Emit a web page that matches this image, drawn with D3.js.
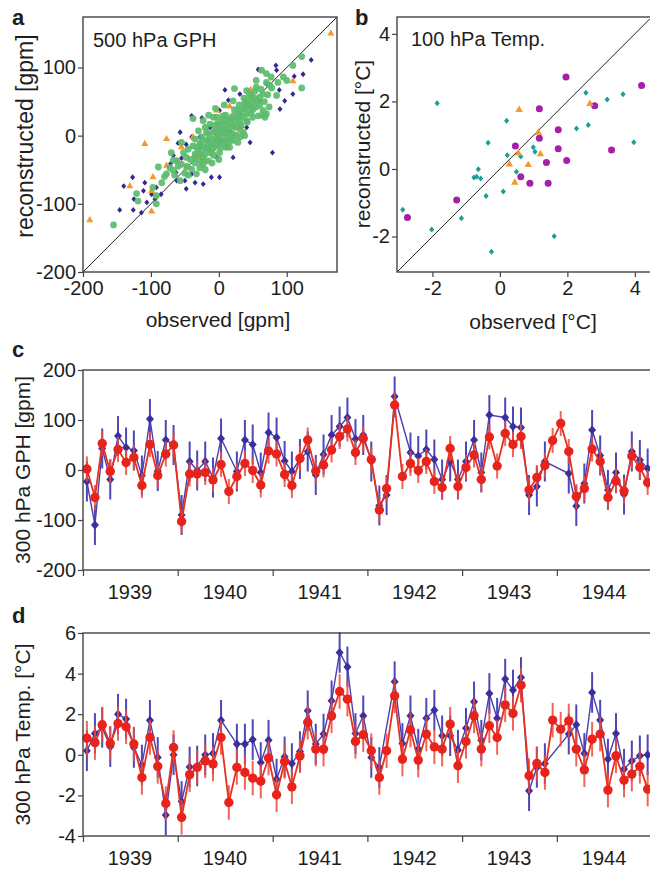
<!DOCTYPE html>
<html>
<head>
<meta charset="utf-8">
<script src="https://cdn.jsdelivr.net/npm/d3@7"></script>
<style>
  body { margin: 0; background: #fff; }
  text { font-family: "Liberation Sans", Arial, sans-serif; fill: #1e1e1e; }
</style>
</head>
<body>
<div id="chart"></div>
<script>
// ---- panel a: 500 hPa GPH, observed vs reconstructed [gpm]
var gphBlue = [[136,111],[124,90],[111,87],[109,61],[84,103],[85,96],[58,97],[89,67],[90,39],[79,-25],
  [46,-10],[9,67],[14,52],[1,37],[-25,26],[-40,29],[-40,-2],[-57,5],[-48,-13],[-60,-11],[-28,-2],[-28,-17],
  [-55,-33],[-63,-54],[-71,-41],[-62,-66],[-50,-66],[-48,-78],[-35,-69],[-23,-71],[-11,-61],[1,-61],[-40,-56],
  [-85,-86],[-99,-86],[-111,-81],[-140,-74],[-127,-61],[-125,-93],[-109,-69],[-106,-98],[-126,-109],[-114,-113],
  [-146,-109],[-94,-93],[-92,-76],[-67,-29],[-3,-32],[21,-32],[41,12],[16,7],[-13,12],[60,51],[70,76],[97,51],
  [31,61],[-16,-7]];
var gphOrange = [[-190,-124],[-109,-12],[-131,-74],[-99,-81],[-99,-111],[-97,-61],[-77,-5],[-77,-44],[-55,-17],
  [-48,-47],[-38,-2],[-28,-32],[-21,-37],[-3,37],[16,43],[16,25],[21,15],[11,-17],[31,7],[47,67],[47,54],
  [109,80],[165,150],[-62,-37],[-8,-25]];
var gphGreen = [[-155,-131],[-121,-85],[-92,-100],[-97,-76],[-84,-69],[-89,-46],[-67,-36],[-72,-47],[-55,-42],
  [-57,-66],[-50,-55],[-40,-49],[-33,-56],[-28,-47],[-23,-42],[-38,25],[-35,-32],[-28,-27],[-23,-17],[-18,-7],
  [-13,-20],[-8,-12],[-3,-2],[1,2],[-8,5],[-18,5],[-13,17],[-6,15],[1,15],[6,7],[11,-2],[16,-7],[21,2],[26,12],
  [31,22],[21,29],[28,37],[36,39],[41,32],[46,42],[50,49],[55,42],[60,56],[50,27],[41,22],[31,32],[21,51],
  [23,69],[41,66],[55,71],[65,61],[70,78],[63,96],[70,91],[77,86],[87,78],[85,59],[70,32],[68,27],[95,86],
  [100,81],[109,103],[122,116],[122,70],[-35,-27],[-48,-32],[-62,-37],[-16,-37],[1,-25],[11,-17],[21,-7],
  [31,-2],[-25,-2],[-20,12],[-3,27],[6,29],[16,17],[11,22],[1,-12],[-6,-10],[-28,-12],[-33,-17],[-30,7],
  [-23,22],[-8,27],[-16,-12],[41,51],[48,59],[55,81],[31,12],[36,5],[16,-17],[-8,-29],[-23,-32],[-1,7],
  [4,-7],[9,15],[38,47],[65,37],[58,29],[75,74],[-67,-51],[-77,-56],[-119,-96],[-92,-88],
  [-45,-20],[-42,-35],[-38,-15],[-35,-5],[-30,-22],[-27,-38],[-25,-8],[-20,-27],[-18,-18],[-15,2],[-12,-25],
  [-10,-5],[-8,-18],[-5,8],[-3,-15],[-2,18],[0,-5],[3,10],[3,-18],[5,22],[7,-10],[8,3],[10,30],[12,10],
  [13,-10],[15,5],[18,25],[18,-2],[20,12],[23,38],[24,20],[26,0],[28,28],[30,45],[33,15],[35,28],[37,55],
  [39,40],[42,20],[43,45],[45,60],[47,33],[50,38],[52,55],[53,65],[57,50],[60,45],[62,68],[64,30],[67,50],
  [72,60],[74,42],[78,70],[-52,-25],[-47,-45],[-60,-45],[-45,-58],[-35,-40],[-20,-50],[-10,-40],[0,-35],
  [-65,-58],[-80,-60],[-70,-25],[28,-10],[38,0],[-5,40],[-15,30],[8,45],[-55,-10]];

// ---- panel b: 100 hPa temperature, observed vs reconstructed [°C]
var tmpTeal = [[-2.88,-1.21],[-2.02,-1.79],[-1.86,1.95],[-1.14,-1.46],[-0.41,-0.80],[-0.35,0.78],[-0.25,-2.45],
  [-0.77,-0.25],[-0.64,-0.01],[-0.69,-0.23],[-0.57,-0.28],[0.10,-0.67],[0.20,1.43],[0.22,0.41],[0.49,-0.08],
  [0.62,0.37],[0.99,0.64],[1.04,0.51],[1.61,-1.99],[2.27,1.20],[2.55,2.26],[2.62,1.30],[3.18,2.06],[3.65,2.21],
  [3.97,0.79]];
var tmpPurple = [[-2.74,-1.44],[-1.28,-0.92],[0.46,0.68],[0.62,-0.23],[0.89,-0.42],[1.17,0.91],[1.17,1.78],
  [1.38,0.19],[1.43,-0.42],[1.73,1.16],[1.73,0.60],[1.96,2.72],[1.98,0.25],[2.81,1.87],[3.31,0.56],[4.20,2.47]];
var tmpOrange = [[0.28,0.14],[0.44,-0.40],[0.57,1.75],[0.55,0.46],[0.84,0.12],[1.14,1.08],[1.20,0.44],[2.67,1.93]];

// ---- panels c and d: monthly series Jan 1939 - Dec 1944
var months = d3.utcMonth.range(new Date(Date.UTC(1939, 0, 1)), new Date(Date.UTC(1945, 0, 1)));
var yearLabels = ["1939", "1940", "1941", "1942", "1943", "1944"];

var gph300Blue = [-23,-110,43,-19,68,45,39,-11,102,-2,60,50,
  -90,17,-1,17,-15,63,null,-3,60,51,-5,75,
  65,18,-3,22,37,-10,31,70,87,105,62,70,
  17,-71,-50,147,null,35,28,41,21,-19,17,-19,
  17,60,-5,110,null,105,87,85,-50,-33,17,null,
  null,-7,-72,-27,80,29,-40,-5,-49,37,20,3];
var gph300Red = [2,-55,53,-3,41,15,25,-31,51,-11,32,50,
  -103,-8,-8,-5,-20,11,-43,-13,13,-1,-30,38,
  32,-9,-31,23,60,-2,10,40,67,82,35,63,
  21,-80,-37,130,-13,13,-1,17,-23,-35,43,-33,
  5,30,-19,66,8,73,51,67,-40,-15,9,59,
  93,37,-53,-37,42,17,-55,-22,-42,28,5,-25];
var gph300BlueErr = 40, gph300RedErr = 25;

var t300Blue = [0.2,1.05,1.35,0.4,2.0,1.76,0.36,-0.5,1.7,-0.13,-2.97,0.0,
  -2.3,-0.6,-0.55,0.0,0.07,1.7,null,0.53,0.53,0.75,-0.38,0.72,
  -1.2,-0.1,-0.43,0.16,2.17,0.53,1.02,2.66,5.04,4.33,1.05,1.92,
  -0.13,-0.62,null,3.6,0.56,1.92,0.28,1.8,2.2,0.94,0.94,0.23,
  1.31,2.61,0.72,3.02,1.8,3.73,3.19,3.81,-1.77,-0.62,-0.43,null,
  null,1.02,1.48,0.07,3.07,1.71,-0.21,1.05,-0.71,-0.3,-0.05,0.0];
var t300Red = [0.82,0.6,1.48,0.56,1.54,1.38,0.53,-1.12,0.85,-0.57,-2.4,0.36,
  -3.08,-0.98,-0.62,-0.3,-0.45,0.85,-2.35,-0.62,-0.87,-1.15,-1.3,-0.16,
  -1.97,-0.33,-1.58,-0.05,1.6,0.28,0.28,1.92,3.12,2.74,0.66,0.99,
  0.2,-1.12,0.2,2.9,-0.21,1.22,-0.26,1.02,0.39,0.28,1.51,-0.54,
  0.66,1.92,0.28,1.43,0.85,2.46,2.04,3.43,-1.03,-0.43,-0.87,1.71,
  1.26,1.67,0.28,-0.74,0.77,1.02,-1.74,-0.05,-1.25,-0.95,-0.57,-1.69];
var t300BlueErr = 1.0, t300RedErr = 0.85;

var W = 650, H = 870;
var axisCol = "#444";
var svg = d3.select("#chart").append("svg").attr("width", W).attr("height", H);

function diamond(cx, cy, w, h) {
  return "M" + cx + "," + (cy - h) + "L" + (cx + w) + "," + cy + "L" + cx + "," + (cy + h) + "L" + (cx - w) + "," + cy + "Z";
}
function plain(d) { return String(d); }

function styleAxis(g, fs) {
  g.select(".domain").remove();
  g.selectAll(".tick line").attr("stroke", axisCol).attr("stroke-width", 1.2);
  g.selectAll(".tick text").style("font-size", fs + "px").attr("fill", "#1e1e1e");
}

function frame(x0, y0, x1, y1) {
  svg.append("rect").attr("x", x0).attr("y", y0).attr("width", x1 - x0).attr("height", y1 - y0)
    .attr("fill", "none").attr("stroke", axisCol).attr("stroke-width", 1.4);
}

// ================= panel a
var xa = d3.scaleLinear().domain([-200, 174]).range([83, 337]);
var ya = d3.scaleLinear().domain([-200, 174]).range([272, 17]);

svg.append("line").attr("x1", xa(-200)).attr("y1", ya(-200)).attr("x2", xa(174)).attr("y2", ya(174))
  .attr("stroke", "#222").attr("stroke-width", 1);

svg.append("g").selectAll("path").data(gphBlue).enter().append("path")
  .attr("d", function(d) { return diamond(xa(d[0]), ya(d[1]), 2.5, 2.9); })
  .attr("fill", "#33288f");
svg.append("g").selectAll("path").data(gphOrange).enter().append("path")
  .attr("d", d3.symbol().type(d3.symbolTriangle).size(22))
  .attr("transform", function(d) { return "translate(" + xa(d[0]) + "," + ya(d[1]) + ")"; })
  .attr("fill", "#f29a2e");
svg.append("g").selectAll("circle").data(gphGreen).enter().append("circle")
  .attr("cx", function(d) { return xa(d[0]); })
  .attr("cy", function(d) { return ya(d[1]); })
  .attr("r", 3.4)
  .attr("fill", "#5cbb6c").attr("fill-opacity", 0.92);

frame(83, 17, 337, 272);
svg.append("g").attr("transform", "translate(83,0)")
  .call(d3.axisLeft(ya).tickValues([-200, -100, 0, 100]).tickSize(5).tickPadding(2).tickFormat(plain))
  .call(styleAxis, 20);
svg.append("g").attr("transform", "translate(0,272)")
  .call(d3.axisBottom(xa).tickValues([-200, -100, 0, 100]).tickSize(5).tickPadding(4).tickFormat(plain))
  .call(styleAxis, 20);

svg.append("text").attr("x", 93).attr("y", 47).style("font-size", "20px").text("500 hPa GPH");
svg.append("text").attr("x", 218).attr("y", 327).attr("text-anchor", "middle").style("font-size", "21px").text("observed [gpm]");
svg.append("text").attr("transform", "translate(33,136) rotate(-90)").attr("text-anchor", "middle")
  .style("font-size", "23px").text("reconstructed [gpm]");
svg.append("text").attr("x", 12).attr("y", 25).style("font-size", "22px").style("font-weight", "bold").text("a");

// ================= panel b
var xb = d3.scaleLinear().domain([-3.05, 4.45]).range([397, 650]);
var yb = d3.scaleLinear().domain([-3.05, 4.5]).range([272, 17]);

svg.append("line").attr("x1", xb(-3.05)).attr("y1", yb(-3.05)).attr("x2", xb(4.45)).attr("y2", yb(4.45))
  .attr("stroke", "#222").attr("stroke-width", 1);

svg.append("g").selectAll("path").data(tmpTeal).enter().append("path")
  .attr("d", function(d) { return diamond(xb(d[0]), yb(d[1]), 2.6, 3.0); })
  .attr("fill", "#1a9f94");
svg.append("g").selectAll("circle").data(tmpPurple).enter().append("circle")
  .attr("cx", function(d) { return xb(d[0]); })
  .attr("cy", function(d) { return yb(d[1]); })
  .attr("r", 3.5).attr("fill", "#a51fa8");
svg.append("g").selectAll("path").data(tmpOrange).enter().append("path")
  .attr("d", d3.symbol().type(d3.symbolTriangle).size(24))
  .attr("transform", function(d) { return "translate(" + xb(d[0]) + "," + yb(d[1]) + ")"; })
  .attr("fill", "#f29a2e");

frame(397, 17, 652, 272);
svg.append("g").attr("transform", "translate(397,0)")
  .call(d3.axisLeft(yb).tickValues([-2, 0, 2, 4]).tickSize(5).tickPadding(2).tickFormat(plain))
  .call(styleAxis, 20);
svg.append("g").attr("transform", "translate(0,272)")
  .call(d3.axisBottom(xb).tickValues([-2, 0, 2, 4]).tickSize(5).tickPadding(4).tickFormat(plain))
  .call(styleAxis, 20);

svg.append("text").attr("x", 411).attr("y", 46).style("font-size", "20px").text("100 hPa Temp.");
svg.append("text").attr("x", 533).attr("y", 329).attr("text-anchor", "middle").style("font-size", "21px").text("observed [°C]");
svg.append("text").attr("transform", "translate(370,144) rotate(-90)").attr("text-anchor", "middle")
  .style("font-size", "21px").text("reconstructed [°C]");
svg.append("text").attr("x", 355).attr("y", 25).style("font-size", "22px").style("font-weight", "bold").text("b");

// ================= panels c and d (time series)
var xt = d3.scaleUtc().domain([new Date(Date.UTC(1939, 0, 1)), new Date(Date.UTC(1945, 0, 1))]).range([83, 651.8]);
function midMonth(m) { return new Date(m.getTime() + 15 * 864e5); }

function timePanel(opt) {
  var y = opt.y;
  var g = svg.append("g");
  var blue = months.map(function(m, i) { return {t: midMonth(m), v: opt.blue[i]}; }).filter(function(d) { return d.v !== null; });
  var red = months.map(function(m, i) { return {t: midMonth(m), v: opt.red[i]}; }).filter(function(d) { return d.v !== null; });
  var line = d3.line().x(function(d) { return xt(d.t); }).y(function(d) { return y(d.v); });

  // blue series
  g.append("g").selectAll("line").data(blue).enter().append("line")
    .attr("x1", function(d) { return xt(d.t); }).attr("x2", function(d) { return xt(d.t); })
    .attr("y1", function(d) { return y(d.v - opt.blueErr); }).attr("y2", function(d) { return y(d.v + opt.blueErr); })
    .attr("stroke", "#4d48b6").attr("stroke-width", 2);
  g.append("path").datum(blue).attr("d", line).attr("fill", "none").attr("stroke", "#4a40b0").attr("stroke-width", 1.4);
  g.append("g").selectAll("path").data(blue).enter().append("path")
    .attr("d", function(d) { return diamond(xt(d.t), y(d.v), 4, 4.6); })
    .attr("fill", "#3b2f9c");

  // red series
  g.append("g").selectAll("line").data(red).enter().append("line")
    .attr("x1", function(d) { return xt(d.t); }).attr("x2", function(d) { return xt(d.t); })
    .attr("y1", function(d) { return y(d.v - opt.redErr); }).attr("y2", function(d) { return y(d.v + opt.redErr); })
    .attr("stroke", "#ef4a3c").attr("stroke-width", 2).attr("stroke-opacity", 0.85);
  g.append("path").datum(red).attr("d", line).attr("fill", "none").attr("stroke", "#e8301f").attr("stroke-width", 1.8);
  g.append("g").selectAll("circle").data(red).enter().append("circle")
    .attr("cx", function(d) { return xt(d.t); }).attr("cy", function(d) { return y(d.v); })
    .attr("r", 4.7).attr("fill", "#e8231c");

  var top = y.range()[1], bot = y.range()[0];
  frame(83, top, 652, bot);
  svg.append("g").attr("transform", "translate(83,0)")
    .call(d3.axisLeft(y).tickValues(opt.ticks).tickSize(5).tickPadding(2).tickFormat(plain))
    .call(styleAxis, 20);
  svg.append("g").attr("transform", "translate(0," + bot + ")")
    .call(d3.axisBottom(xt).ticks(d3.utcYear.every(1)).tickSize(6).tickFormat(""))
    .call(styleAxis, 20);
  svg.append("g").selectAll("text").data(yearLabels).enter().append("text")
    .attr("x", function(d) { return xt(new Date(Date.UTC(+d, 6, 1))); })
    .attr("y", bot + 29).attr("text-anchor", "middle").style("font-size", "20px")
    .text(function(d) { return d; });
  svg.append("text").attr("transform", "translate(" + opt.titleX + "," + ((top + bot) / 2) + ") rotate(-90)")
    .attr("text-anchor", "middle").style("font-size", "21px").text(opt.title);
  svg.append("text").attr("x", 12).attr("y", opt.letterY).style("font-size", "22px").style("font-weight", "bold").text(opt.letter);
}

timePanel({
  y: d3.scaleLinear().domain([-200, 200]).range([570, 370]),
  blue: gph300Blue, red: gph300Red, blueErr: gph300BlueErr, redErr: gph300RedErr,
  ticks: [-200, -100, 0, 100, 200], title: "300 hPa GPH [gpm]", titleX: 30, letter: "c", letterY: 357
});
timePanel({
  y: d3.scaleLinear().domain([-4, 6]).range([836, 633]),
  blue: t300Blue, red: t300Red, blueErr: t300BlueErr, redErr: t300RedErr,
  ticks: [-4, -2, 0, 2, 4, 6], title: "300 hPa Temp. [°C]", titleX: 30, letter: "d", letterY: 623
});
</script>
</body>
</html>
